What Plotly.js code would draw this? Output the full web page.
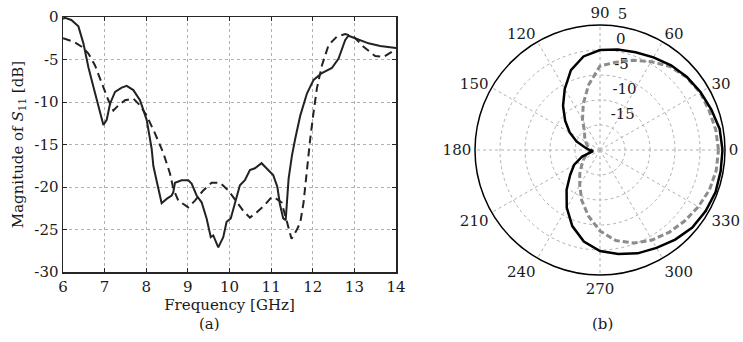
<!DOCTYPE html>
<html>
<head>
<meta charset="utf-8">
<script src="https://cdn.plot.ly/plotly-3.0.1.min.js"></script>
<style>html,body{margin:0;padding:0;background:#fff;}#chart{width:743px;height:342px;}</style>
</head>
<body>
<div id="chart"></div>
<script>
// ---- Panel (a): |S11| vs frequency ----
const freqSolid = [6.0, 6.05, 6.2, 6.37, 6.49, 6.61, 6.73, 6.85, 6.97, 7.05, 7.13, 7.25, 7.41, 7.53, 7.69, 7.85, 8.01, 8.13, 8.17, 8.25, 8.37, 8.49, 8.61, 8.65, 8.69, 8.85, 9.01, 9.09, 9.21, 9.33, 9.45, 9.55, 9.61, 9.73, 9.85, 9.93, 10.03, 10.17, 10.25, 10.37, 10.49, 10.61, 10.77, 10.93, 11.05, 11.15, 11.21, 11.29, 11.35, 11.42, 11.5, 11.58, 11.7, 11.86, 12.02, 12.22, 12.46, 12.62, 12.78, 12.86, 13.06, 13.34, 13.62, 13.94, 14.0];
const s11Solid  = [-0.2, -0.1, -0.35, -1.1, -3.1, -5.9, -8.2, -10.6, -12.7, -12.1, -10.2, -8.8, -8.3, -8.1, -8.6, -9.8, -12.1, -15.5, -17.5, -19.3, -21.9, -21.4, -21.0, -20.6, -19.5, -19.2, -19.2, -19.6, -21.0, -21.8, -23.7, -25.9, -25.7, -27.1, -25.9, -24.1, -23.7, -21.2, -19.8, -19.2, -18.0, -17.8, -17.2, -18.0, -18.6, -20.0, -22.0, -23.7, -23.9, -19.0, -16.3, -14.3, -11.6, -9.0, -7.4, -6.6, -6.0, -4.9, -2.7, -2.2, -2.6, -3.1, -3.4, -3.6, -3.65];
const freqDash  = [6.0, 6.25, 6.45, 6.61, 6.77, 6.93, 7.09, 7.21, 7.33, 7.49, 7.69, 7.85, 8.01, 8.21, 8.41, 8.57, 8.65, 8.77, 9.01, 9.17, 9.37, 9.57, 9.77, 9.97, 10.17, 10.33, 10.49, 10.65, 10.85, 11.01, 11.13, 11.25, 11.37, 11.49, 11.61, 11.7, 11.78, 11.86, 11.94, 12.02, 12.1, 12.22, 12.38, 12.58, 12.78, 12.98, 13.22, 13.5, 13.7, 13.9, 14.0];
const s11Dash   = [-2.5, -2.9, -3.5, -4.3, -5.7, -7.8, -9.8, -11.0, -10.4, -9.8, -9.6, -10.4, -11.6, -13.7, -16.0, -18.4, -20.2, -21.6, -22.4, -21.6, -20.4, -19.5, -19.5, -20.4, -21.8, -22.8, -23.6, -23.0, -22.1, -21.2, -21.4, -21.8, -23.9, -26.1, -25.1, -24.2, -21.8, -17.8, -14.3, -11.2, -8.4, -5.7, -3.3, -2.3, -2.0, -2.3, -3.5, -4.6, -4.7, -4.1, -3.6];
const xTicks = [6, 7, 8, 9, 10, 11, 12, 13, 14];
const yTicks = [0, -5, -10, -15, -20, -25, -30];

// ---- Panel (b): radiation pattern (dB) ----
const thetaSolid = [0, 10, 20, 30, 40, 50, 60, 70, 80, 90, 100, 110, 120, 130, 140, 150, 160, 170, 180, 190, 200, 210, 220, 230, 240, 250, 260, 270, 280, 290, 300, 310, 320, 330, 340, 350, 360];
const rSolid     = [4.5, 4.3, 3.7, 3.2, 2.7, 2.1, 1.4, 0.8, 0.4, 0.0, -1.0, -3.0, -5.9, -8.5, -10.9, -13.0, -15.0, -16.9, -17.9, -18.6, -16.2, -14.0, -12.2, -9.6, -6.7, -3.8, -1.4, 0.2, 1.1, 2.0, 2.6, 3.4, 4.1, 4.4, 4.6, 4.5, 4.5];
const thetaDash  = [0, 10, 20, 30, 40, 50, 60, 70, 80, 90, 100, 110, 120, 130, 140, 150, 160, 170, 180, 190, 200, 210, 220, 230, 240, 250, 260, 270, 280, 290, 300, 310, 320, 330, 340, 350, 360];
const rDash      = [3.7, 3.5, 3.2, 3.1, 2.6, 1.8, 0.4, -0.9, -2.2, -3.2, -6.8, -10.2, -13.0, -15.2, -16.0, -16.7, -17.3, -17.8, -18.3, -17.9, -17.0, -16.2, -15.2, -13.7, -11.9, -9.3, -6.6, -3.8, -1.6, -0.2, 0.8, 1.5, 2.1, 2.7, 3.3, 3.6, 3.7];
const angTicks   = [0, 30, 60, 90, 120, 150, 180, 210, 240, 270, 300, 330];
const radTicks   = [-15, -10, -5, 0, 5];
const radRange   = [-20, 5];

const FONT = "DejaVu Serif";
const FS = 15;
const TXT = "#1a1a1a";
const gridCol = "#b0b0b0";
const label = v => String(v); // plain hyphen-minus as in the reference

const data = [
  {x: freqSolid, y: s11Solid, type: "scatter", mode: "lines", xaxis: "x", yaxis: "y",
   line: {color: "#222", width: 2}, hoverinfo: "skip"},
  {x: freqDash, y: s11Dash, type: "scatter", mode: "lines", xaxis: "x", yaxis: "y",
   line: {color: "#222", width: 2, dash: "8px,5px"}, hoverinfo: "skip"},
  {type: "scatterpolar", subplot: "polar", r: rDash, theta: thetaDash, mode: "lines",
   line: {color: "#8c8c8c", width: 3, dash: "6px,3px"}, hoverinfo: "skip"},
  {type: "scatterpolar", subplot: "polar", r: rSolid, theta: thetaSolid, mode: "lines",
   line: {color: "#000", width: 2.5}, hoverinfo: "skip"},
  // invisible trace so the label-only polar overlay is drawn
  {type: "scatterpolar", subplot: "polar2", r: radTicks, theta: radTicks.map(() => 0), mode: "markers",
   marker: {opacity: 0}, hoverinfo: "skip"}
];

const W = 743, H = 342;
const cx = 600, cy = 150, R = 125;
const R2 = 140;
const pxPerDb = R / (radRange[1] - radRange[0]);
const shiftDb = 14.5 / pxPerDb;

const layout = {
  width: W, height: H,
  margin: {l: 0, r: 0, t: 0, b: 0},
  paper_bgcolor: "#fff", plot_bgcolor: "#fff",
  showlegend: false,
  font: {family: FONT, size: FS, color: TXT},
  xaxis: {
    domain: [63 / W, 396 / W], range: [6, 14], tickvals: xTicks, ticktext: xTicks.map(label),
    showgrid: true, gridcolor: gridCol, griddash: "3px,3px", gridwidth: 1,
    zeroline: false, showline: true, linecolor: "#262626", linewidth: 1.5, mirror: "ticks",
    ticks: "inside", ticklen: 4, tickcolor: "#262626",
    tickfont: {family: FONT, size: FS, color: TXT},
    title: {text: "Frequency [GHz]", font: {family: FONT, size: FS, color: TXT}, standoff: 5},
    anchor: "y"
  },
  yaxis: {
    domain: [1 - 272 / H, 1 - 17 / H], range: [-30, 0], tickvals: yTicks, ticktext: yTicks.map(label),
    showgrid: true, gridcolor: gridCol, griddash: "3px,3px", gridwidth: 1,
    zeroline: false, showline: true, linecolor: "#262626", linewidth: 1.5, mirror: "ticks",
    ticks: "inside", ticklen: 4, tickcolor: "#262626",
    tickfont: {family: FONT, size: FS, color: TXT},
    title: {text: "Magnitude of <i>S</i><sub>11</sub> [dB]", font: {family: FONT, size: FS, color: TXT}, standoff: 7},
    anchor: "x"
  },
  polar: {
    domain: {x: [(cx - R) / W, (cx + R) / W], y: [1 - (cy + R) / H, 1 - (cy - R) / H]},
    bgcolor: "rgba(0,0,0,0)",
    radialaxis: {
      range: radRange, tickvals: radTicks.slice(0, 4), showticklabels: false, ticks: "",
      showline: false, showgrid: true, gridcolor: gridCol, griddash: "3px,3px", gridwidth: 1
    },
    angularaxis: {
      rotation: 0, direction: "counterclockwise",
      tickmode: "array", tickvals: angTicks, ticktext: angTicks.map(label),
      ticks: "", showline: true, linecolor: "#000", linewidth: 1.5,
      showgrid: true, gridcolor: gridCol, griddash: "3px,3px", gridwidth: 1,
      tickfont: {family: FONT, size: FS, color: TXT}
    }
  },
  polar2: {
    domain: {x: [(cx - R2) / W, (cx + R2) / W], y: [1 - (cy + R2) / H, 1 - (cy - R2) / H]},
    bgcolor: "rgba(0,0,0,0)",
    radialaxis: {
      range: [radRange[0] - shiftDb, radRange[0] - shiftDb + R2 / pxPerDb],
      tickvals: radTicks, ticktext: radTicks.map(label), ticks: "",
      showline: false, showgrid: false, angle: 86, tickangle: 86,
      tickfont: {family: FONT, size: FS, color: TXT}
    },
    angularaxis: {showline: false, showgrid: false, showticklabels: false, ticks: ""}
  },
  annotations: [
    {text: "(a)", xref: "paper", yref: "paper", x: 209 / W, y: 1 - 324 / H, showarrow: false,
     xanchor: "center", yanchor: "middle", font: {family: FONT, size: 15, color: TXT}},
    {text: "(b)", xref: "paper", yref: "paper", x: 602 / W, y: 1 - 324 / H, showarrow: false,
     xanchor: "center", yanchor: "middle", font: {family: FONT, size: 15, color: TXT}}
  ]
};

Plotly.newPlot("chart", data, layout, {staticPlot: true, displayModeBar: false});
</script>
</body>
</html>
